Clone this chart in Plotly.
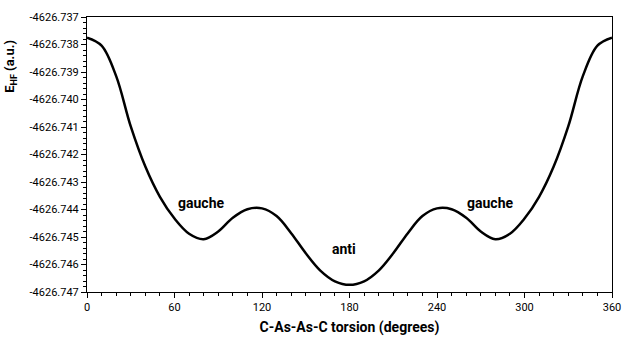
import plotly.graph_objects as go

# Curve every 10 degrees over 0-180; the right half mirrors it.
torsion_left = [0, 10, 20, 30, 40, 50, 60, 70, 80, 90, 100, 110, 120, 130, 140, 150, 160, 170, 180]
energy_left = [-4626.73775, -4626.73804, -4626.73915, -4626.74098, -4626.74244, -4626.74354,
               -4626.74433, -4626.74488, -4626.74508, -4626.74480, -4626.74430, -4626.74399,
               -4626.74396, -4626.74424, -4626.74486, -4626.74559, -4626.74622, -4626.74661,
               -4626.74674]

torsion = torsion_left + [360 - t for t in reversed(torsion_left[:-1])]
energy = energy_left + list(reversed(energy_left[:-1]))

x_ticks = [0, 60, 120, 180, 240, 300, 360]
y_ticks = [-4626.737 - 0.001 * i for i in range(11)]
y_tick_labels = ["%.3f" % v for v in y_ticks]

labels = ["gauche", "anti", "gauche"]
label_x = [78, 176.5, 276.5]
label_y = [-4626.74375, -4626.74545, -4626.74375]

FONT = "Roboto"

fig = go.Figure()
fig.add_trace(go.Scatter(x=torsion, y=energy, mode="lines",
                         line=dict(color="black", width=2.5, shape="spline", smoothing=1.0),
                         showlegend=False, hoverinfo="skip"))

for t, lx, ly in zip(labels, label_x, label_y):
    fig.add_annotation(x=lx, y=ly, text="<b>%s</b>" % t, showarrow=False,
                       font=dict(family=FONT, size=14, color="black"))

fig.add_annotation(xref="paper", yref="paper", x=-0.146, y=0.82,
                   xanchor="center", yanchor="middle",
                   text="<b>E<sub>HF</sub> (a.u.)</b>", textangle=-90, showarrow=False,
                   font=dict(family=FONT, size=13, color="black"))

fig.update_layout(
    width=630, height=341,
    margin=dict(l=87, r=9, t=17, b=47),
    paper_bgcolor="white", plot_bgcolor="white",
    font=dict(family=FONT, size=12, color="black"),
    xaxis=dict(range=[0, 360], tickvals=x_ticks, ticktext=[str(v) for v in x_ticks],
               ticks="outside", ticklen=5, tickcolor="black", showgrid=False, zeroline=False,
               showline=True, linecolor="black", linewidth=1, mirror=True,
               minor=dict(dtick=10, ticks="outside", ticklen=3, tickcolor="black"),
               tickfont=dict(family=FONT, size=11),
               title=dict(text="<b>C-As-As-C torsion (degrees)</b>", font=dict(family=FONT, size=14),
                          standoff=8)),
    yaxis=dict(range=[-4626.747, -4626.737], tickvals=y_ticks, ticktext=y_tick_labels,
               ticks="outside", ticklen=5, tickcolor="black", showgrid=False, zeroline=False,
               showline=True, linecolor="black", linewidth=1, mirror=True,
               minor=dict(tick0=-4626.747, dtick=0.0002, ticks="outside", ticklen=3, tickcolor="black"),
               tickfont=dict(family=FONT, size=11)),
)

fig.write_html("out.html")
